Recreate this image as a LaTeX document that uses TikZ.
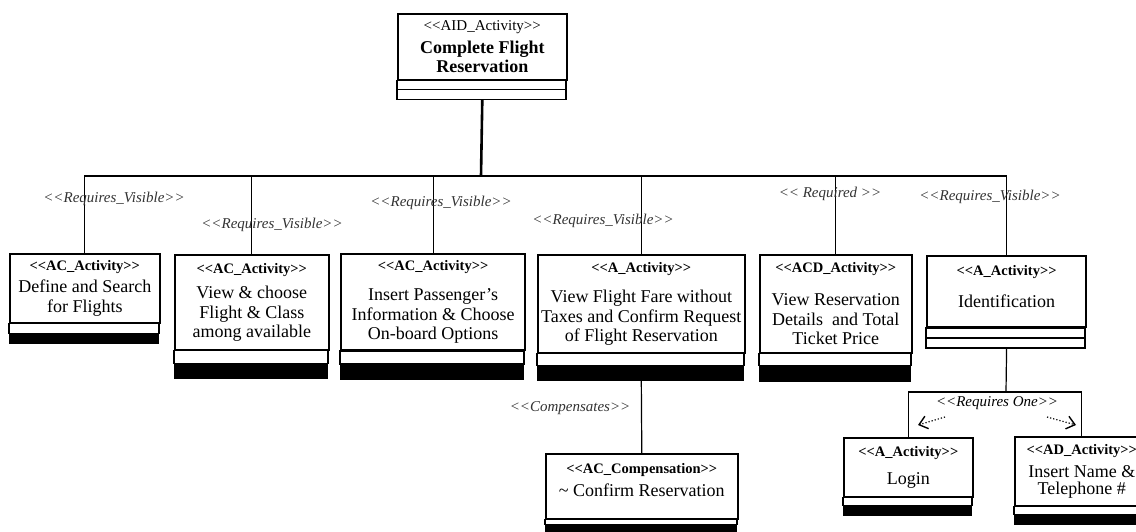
\documentclass[tikz,border=0pt]{standalone}
\usepackage{fontspec}
\setmainfont{Liberation Serif}[Ligatures=TeXOff]
\usetikzlibrary{arrows.meta}

\newcommand{\stereo}[1]{{\fontsize{14.5}{17}\selectfont\bfseries <<#1>>}}

\begin{document}
\begin{tikzpicture}[x=1pt, y=-1pt,
    actbox/.style={draw, line width=1.6pt, rectangle, anchor=north west, align=center,
      inner sep=0pt, font=\fontsize{18}{19.5}\selectfont},
    link/.style={line width=1.2pt},
    rel/.style={font=\fontsize{15}{17}\selectfont\itshape, text=black!80, inner sep=0pt}]
    \useasboundingbox (0,0) rectangle (1136,531);

    \node[actbox, minimum width=169pt, minimum height=66pt] (top) at (397,13)
      {{\fontsize{15}{17}\selectfont <<AID\_Activity>>}\\[3pt]\bfseries Complete Flight\\\bfseries Reservation};
    \node[actbox, minimum width=150pt, minimum height=69pt] (define) at (9,253)
      {\stereo{AC\_Activity}\\[3pt]Define and Search\\for Flights};
    \node[actbox, minimum width=154pt, minimum height=95pt] (choose) at (174,254)
      {\stereo{AC\_Activity}\\[6pt]View \& choose\\Flight \& Class\\among available};
    \node[actbox, line width=2.2pt, minimum width=184pt, minimum height=96pt] (insert) at (340,253)
      {\stereo{AC\_Activity}\\[11pt]Insert Passenger’s\\Information \& Choose\\On-board Options};
    \node[actbox, minimum width=207pt, minimum height=98pt] (fare) at (537,254)
      {\stereo{A\_Activity}\\[11pt]View Flight Fare without\\Taxes and Confirm Request\\of Flight Reservation};
    \node[actbox, minimum width=152pt, minimum height=98pt] (details) at (759,254)
      {\stereo{ACD\_Activity}\\[13pt]View Reservation\\Details\ \ and Total\\Ticket Price};
    \node[actbox, line width=2.2pt, minimum width=159pt, minimum height=71pt] (ident) at (926,255)
      {\stereo{A\_Activity}\\[12.5pt]Identification\rule[-11pt]{0pt}{11pt}};
    \node[actbox, minimum width=192pt, minimum height=65pt] (comp) at (545,453)
      {\stereo{AC\_Compensation}\\[3.5pt]\string~ Confirm Reservation\rule[-12pt]{0pt}{12pt}};
    \node[actbox, minimum width=129pt, minimum height=59pt] (login) at (843,437)
      {\stereo{A\_Activity}\\[8.5pt]Login};
    \node[actbox, minimum width=134pt, minimum height=69pt, font=\fontsize{18}{17}\selectfont] (phone) at (1014,436)
      {\stereo{AD\_Activity}\\[6pt]Insert Name \&\\Telephone \#};

    % compartments below each box
    \foreach \n/\w/\a/\b in {define/150/10/10, choose/154/13/15, insert/184/13/16,
        fare/207/12/15, details/152/12/16, login/129/8/10, phone/134/8/10, comp/192/5/11} {
      \draw[line width=1.6pt] (\n.south west) rectangle ++(\w,\a);
      \fill (\n.south west) ++(0,\a) rectangle ++(\w,\b);
    }
    \draw[line width=1.6pt] (top.south west) rectangle ++(169,9) rectangle ++(-169,10);
    \draw[line width=2.2pt] (ident.south west) rectangle ++(159,10) rectangle ++(-159,10);

    % tree
    \coordinate (bus) at (481,176);
    \draw[line width=2.6pt] (top.south) ++(0,19) -- (bus);
    \draw[link] (define.north) |- (ident.north |- bus) -- (ident.north);
    \foreach \n in {choose, insert, fare, details}
      \draw[link] (\n.north) -- (\n.north |- bus);
    \draw[link] (fare.south) ++(0,27) -- (comp.north);

    \coordinate (fork) at (1006,392);
    \draw[link] (ident.south) ++(0,20) -- (fork);
    \draw[link] (login.north) |- (fork) -| (phone.north);
    \coordinate (la) at (945,417);
    \coordinate (lb) at (918,425);
    \coordinate (ra) at (1047,417);
    \coordinate (rb) at (1076,425);
    \draw[link, dotted, -{Straight Barb[length=8pt, width=13pt, line width=1.4pt]}] (la) -- (lb);
    \draw[link, dotted, -{Straight Barb[length=8pt, width=13pt, line width=1.4pt]}] (ra) -- (rb);

    \node[rel] (rv1) at (114,199) {<<Requires\_Visible>>};
    \node[rel] (rv2) at (272,225) {<<Requires\_Visible>>};
    \node[rel] (rv3) at (441,203) {<<Requires\_Visible>>};
    \node[rel] (rv4) at (603,221) {<<Requires\_Visible>>};
    \node[rel] (req) at (830,194) {<< Required >>};
    \node[rel] (rv6) at (990,197) {<<Requires\_Visible>>};
    \node[rel] (cmp) at (570,408) {<<Compensates>>};
    \node[rel, text=black] (one) at (997,403) {<<Requires One>>};
\end{tikzpicture}
\end{document}
